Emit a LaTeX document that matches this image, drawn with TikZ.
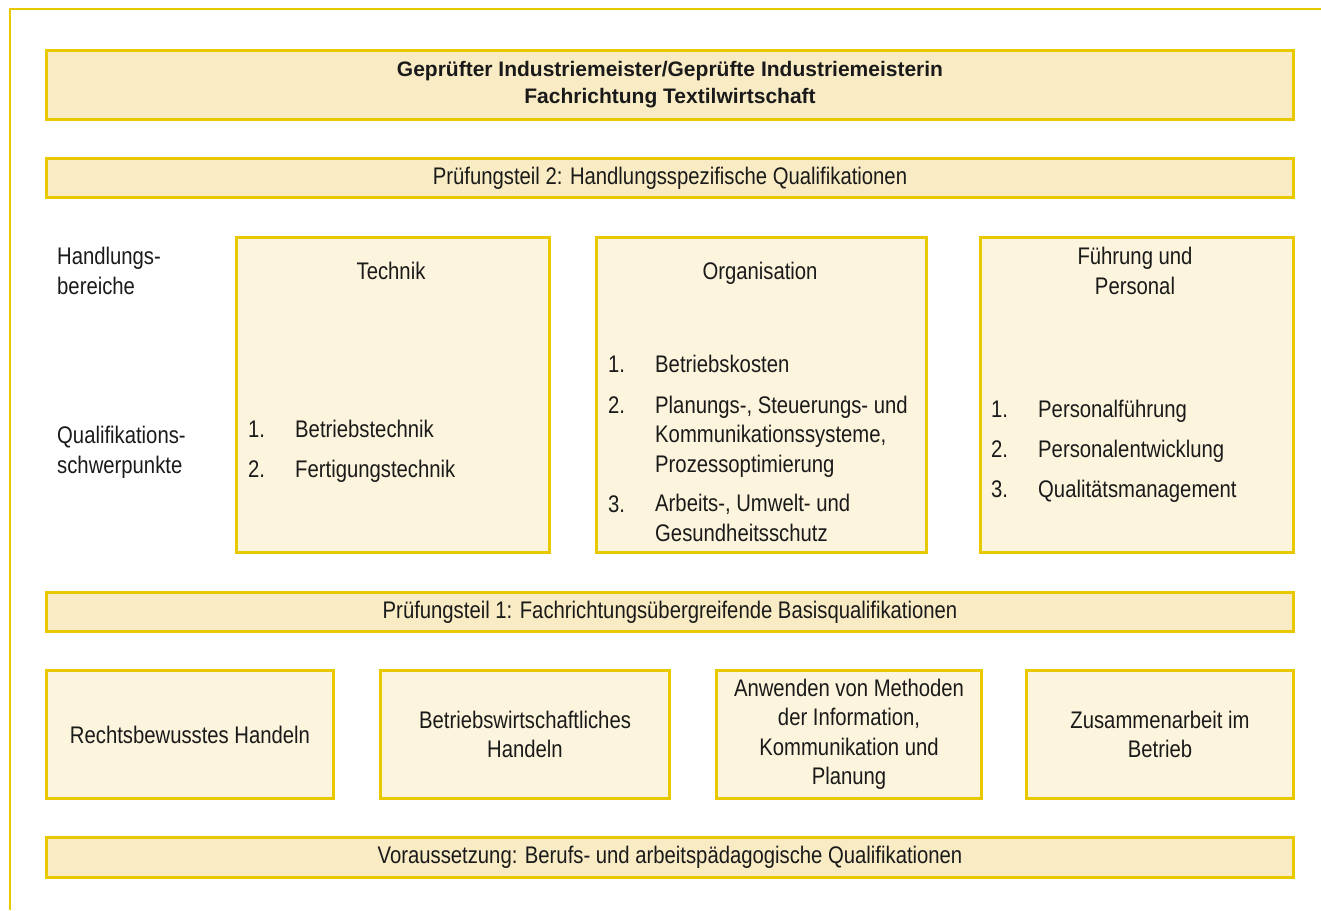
\documentclass[tikz,border=0pt]{standalone}
\usepackage{fontspec}
\setmainfont{Liberation Sans}[FakeStretch=0.845]
\newfontfamily\titlefont{Liberation Sans}
\definecolor{ygold}{HTML}{E8C900}
\definecolor{bannerfill}{HTML}{F9ECC5}
\definecolor{panelfill}{HTML}{FCF4DC}
\definecolor{ink}{HTML}{1A1A1A}
\begin{document}
\begin{tikzpicture}[x=1pt,y=-1pt,
  every node/.style={text=ink,font=\fontsize{24}{29.5}\selectfont},
  frame/.style={draw=ygold,line width=3pt,anchor=north west,inner sep=0pt},
  banner/.style={frame,fill=bannerfill},
  panel/.style={frame,fill=panelfill},
  txt/.style={anchor=base west,inner sep=0pt,align=left},
  ctxt/.style={anchor=base,inner sep=0pt,align=center},
  boxtxt/.style={panel,align=center}]
\useasboundingbox (0,0) rectangle (1321,910);

% outer frame (top and left edges)
\coordinate (fbl) at (10,910);
\coordinate (ftl) at (10,9);
\coordinate (ftr) at (1321,9);
\draw[ygold,line width=2.5pt] (fbl) -- (ftl) -- (ftr);

% title and section banners
\node[banner,minimum width=1247pt,minimum height=69pt,align=center,
      font=\fontsize{21}{27}\titlefont\bfseries] (title) at (45,49)
  {Geprüfter Industriemeister/Geprüfte Industriemeisterin\\Fachrichtung Textilwirtschaft};
\node[banner,minimum width=1247pt,minimum height=39pt] (teil2) at (45,157)
  {Prüfungsteil 2: Handlungsspezifische Qualifikationen};
\node[banner,minimum width=1247pt,minimum height=39pt] (teil1) at (45,591)
  {Prüfungsteil 1: Fachrichtungsübergreifende Basisqualifikationen};
\node[banner,minimum width=1247pt,minimum height=40pt] (vor) at (45,836)
  {Voraussetzung: Berufs- und arbeitspädagogische Qualifikationen};

% row labels (base anchor = last line)
\node[txt] (lblhb) at (57,294) {Handlungs-\\bereiche};
\node[txt] (lblqs) at (57,473) {Qualifikations-\\schwerpunkte};

% Handlungsbereiche
\node[panel,minimum width=313pt,minimum height=315pt] (tech) at (235,236) {};
\node[panel,minimum width=330pt,minimum height=315pt] (orga) at (595,236) {};
\node[panel,minimum width=313pt,minimum height=315pt] (fuehr) at (979,236) {};

\node[ctxt] (techT) at (391,279) {Technik};
\node[ctxt] (orgaT) at (760,279) {Organisation};
\node[ctxt] (fuehrT) at (1135,294) {Führung und\\Personal};

% Technik items
\node[txt] (t1n) at (248,437) {1.};
\node[txt] (t1) at (295,437) {Betriebstechnik};
\node[txt] (t2n) at (248,477) {2.};
\node[txt] (t2) at (295,477) {Fertigungstechnik};

% Organisation items
\node[txt] (o1n) at (608,372) {1.};
\node[txt] (o1) at (655,372) {Betriebskosten};
\node[txt] (o2n) at (608,413) {2.};
\node[txt] (o2) at (655,472) {Planungs-, Steuerungs- und\\Kommunikationssysteme,\\Prozessoptimierung};
\node[txt] (o3n) at (608,512) {3.};
\node[txt] (o3) at (655,541) {Arbeits-, Umwelt- und\\Gesundheitsschutz};

% Führung und Personal items
\node[txt] (f1n) at (991,417) {1.};
\node[txt] (f1) at (1038,417) {Personalführung};
\node[txt] (f2n) at (991,457) {2.};
\node[txt] (f2) at (1038,457) {Personalentwicklung};
\node[txt] (f3n) at (991,497) {3.};
\node[txt] (f3) at (1038,497) {Qualitätsmanagement};

% Basisqualifikationen
\node[boxtxt,minimum width=287pt,minimum height=128pt] (b1) at (45,669)
  {Rechtsbewusstes Handeln};
\node[boxtxt,minimum width=289pt,minimum height=128pt] (b2) at (379,669)
  {Betriebswirtschaftliches\\Handeln};
\node[boxtxt,minimum width=265pt,minimum height=128pt] (b3) at (715,669)
  {Anwenden von Methoden\\der Information,\\Kommunikation und\\Planung};
\node[boxtxt,minimum width=267pt,minimum height=128pt] (b4) at (1025,669)
  {Zusammenarbeit im\\Betrieb};
\end{tikzpicture}
\end{document}
